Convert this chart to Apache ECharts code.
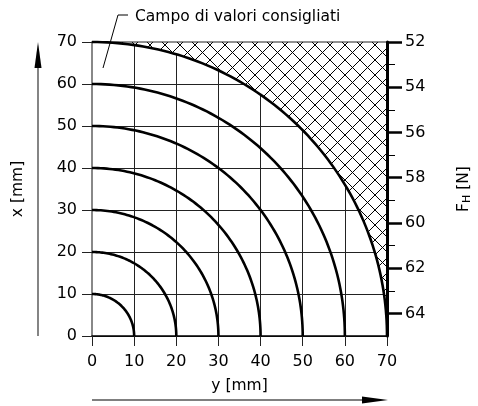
<!DOCTYPE html>
<html>
<head>
<meta charset="utf-8">
<script src="https://cdn.jsdelivr.net/npm/echarts@6/dist/echarts.min.js"></script>
<style>
  html, body { margin: 0; padding: 0; background: #fff; }
  #chart { width: 478px; height: 406px; }
</style>
</head>
<body>
<div id="chart"></div>
<script>
// raggi dei quarti di cerchio [mm]
var radii = [10, 20, 30, 40, 50, 60, 70];
// limite del campo consigliato
var hatchRadius = [70];
// asse F_H [N]
var fhMajor = [52, 54, 56, 58, 60, 62, 64];
var fhMinor = [53, 55, 57, 59, 61, 63];
var fhMin = 52, fhMax = 65;

var FONT = '"DejaVu Sans", sans-serif';

// motivo tratteggio incrociato
function hatchPattern() {
    var s = 15;
    var c = document.createElement('canvas');
    c.width = s; c.height = s;
    var ctx = c.getContext('2d');
    ctx.fillStyle = '#fff';
    ctx.fillRect(0, 0, s, s);
    ctx.strokeStyle = '#000';
    ctx.lineWidth = 1;
    ctx.beginPath();
    ctx.moveTo(0, 0); ctx.lineTo(s, s);
    ctx.moveTo(s, 0); ctx.lineTo(0, s);
    ctx.stroke();
    return c;
}

function arcPoints(api, r) {
    var pts = [];
    for (var i = 0; i <= 90; i++) {
        var t = i / 90 * Math.PI / 2;
        pts.push(api.coord([r * Math.cos(t), r * Math.sin(t)]));
    }
    return pts;
}

var myChart = echarts.init(document.getElementById('chart'));

var option = {
    backgroundColor: '#fff',
    animation: false,
    textStyle: { fontFamily: FONT, color: '#000' },
    grid: { left: 92, right: 91, top: 42, bottom: 70, outerBoundsMode: 'none', containLabel: false },
    xAxis: {
        type: 'value', min: 0, max: 70, interval: 10,
        name: 'y [mm]', nameLocation: 'middle', nameGap: 42,
        nameTextStyle: { fontFamily: FONT, fontSize: 15.5, color: '#000' },
        axisLine: { show: true, onZero: false, lineStyle: { color: '#000', width: 1.5 } },
        axisTick: { show: true, inside: false, length: 10, lineStyle: { color: '#222', width: 1 } },
        axisLabel: { margin: 18, fontFamily: FONT, fontSize: 16, color: '#000' },
        splitLine: { show: true, lineStyle: { color: '#222', width: 1 } }
    },
    yAxis: [
        {
            type: 'value', position: 'left', min: 0, max: 70, interval: 10,
            name: 'x [mm]', nameLocation: 'middle', nameGap: 66, nameRotate: 90,
            nameTextStyle: { fontFamily: FONT, fontSize: 15.5, color: '#000' },
            axisLine: { show: true, onZero: false, lineStyle: { color: '#888', width: 2 } },
            axisTick: { show: true, inside: false, length: 10, lineStyle: { color: '#222', width: 1 } },
            axisLabel: { margin: 15, fontFamily: FONT, fontSize: 16, color: '#000' },
            splitLine: { show: true, lineStyle: { color: '#222', width: 1 } }
        },
        {
            type: 'value', position: 'right', offset: 0, inverse: true, min: fhMin, max: fhMax,
            z: 5,
            name: '{a|F}{s|H}{a| [N]}', nameLocation: 'middle', nameGap: 68, nameRotate: 90,
            nameTextStyle: {
                rich: {
                    a: { fontFamily: FONT, fontSize: 15.5, color: '#000' },
                    s: { fontFamily: FONT, fontSize: 11, color: '#000', padding: [7, 0, 0, 0] }
                }
            },
            axisLine: { show: true, onZero: false, lineStyle: { color: '#000', width: 3 } },
            axisTick: { show: true, inside: false, length: 15, customValues: fhMajor, lineStyle: { color: '#000', width: 2.5 } },
            axisLabel: { margin: 18, customValues: fhMajor, fontFamily: FONT, fontSize: 16, color: '#000' },
            splitLine: { show: false }
        },
        {
            type: 'value', position: 'right', offset: 0, inverse: true, min: fhMin, max: fhMax,
            z: 5,
            axisLine: { show: false, onZero: false },
            axisTick: { show: true, inside: false, length: 8, customValues: fhMinor, lineStyle: { color: '#000', width: 1 } },
            axisLabel: { show: false },
            splitLine: { show: false }
        }
    ],
    series: [
        {
            type: 'custom',
            name: 'campo',
            coordinateSystem: 'cartesian2d',
            clip: false,
            data: hatchRadius.map(function (r) { return [r]; }),
            renderItem: function (params, api) {
                var r = api.value(0);
                var pts = arcPoints(api, r);
                pts.push(api.coord([r, r]));
                var a = api.coord([0, r]), b = api.coord([r, r]);
                return {
                    type: 'group',
                    children: [
                        {
                            type: 'polygon',
                            shape: { points: pts },
                            style: { fill: { image: hatchPattern(), repeat: 'repeat' }, stroke: null }
                        },
                        {
                            type: 'line',
                            shape: { x1: a[0], y1: a[1], x2: b[0], y2: b[1] },
                            style: { stroke: '#222', lineWidth: 1 }
                        }
                    ]
                };
            }
        },
        {
            type: 'custom',
            name: 'raggi',
            coordinateSystem: 'cartesian2d',
            clip: false,
            z: 3,
            data: radii.map(function (r) { return [r]; }),
            renderItem: function (params, api) {
                return {
                    type: 'polyline',
                    shape: { points: arcPoints(api, api.value(0)) },
                    style: { stroke: '#000', lineWidth: 2.6, fill: null }
                };
            }
        }
    ],
    graphic: [
        {
            type: 'polyline',
            shape: { points: [[103, 68], [118, 15], [128, 15]] },
            style: { stroke: '#000', lineWidth: 1, fill: null }
        },
        {
            type: 'text', left: 135, top: 9,
            style: { text: 'Campo di valori consigliati', font: '15.5px ' + FONT, fill: '#000' }
        },
        {
            type: 'line',
            shape: { x1: 38, y1: 336, x2: 38, y2: 62 },
            style: { stroke: '#333', lineWidth: 1.2 }
        },
        {
            type: 'polygon',
            shape: { points: [[38, 42], [34.5, 68], [41.5, 68]] },
            style: { fill: '#000' }
        },
        {
            type: 'line',
            shape: { x1: 92, y1: 400, x2: 366, y2: 400 },
            style: { stroke: '#000', lineWidth: 1.2 }
        },
        {
            type: 'polygon',
            shape: { points: [[388, 400], [362, 396.5], [362, 403.5]] },
            style: { fill: '#000' }
        }
    ]
};

myChart.setOption(option);
</script>
</body>
</html>
